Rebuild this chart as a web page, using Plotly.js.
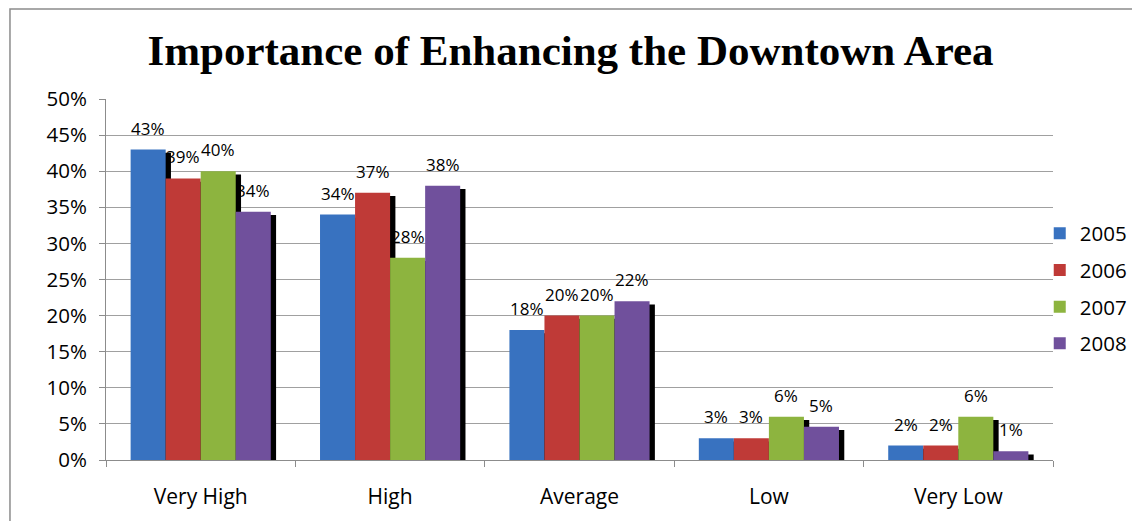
<!DOCTYPE html>
<html>
<head>
<meta charset="utf-8">
<script src="https://cdn.plot.ly/plotly-3.0.1.min.js"></script>
<style>
html,body{margin:0;padding:0;background:#fff;}
#chart{width:1132px;height:521px;}
</style>
</head>
<body>
<div id="chart"></div>
<script>
// ---- data ----
const categories = ["Very High", "High", "Average", "Low", "Very Low"];
const seriesNames = ["2005", "2006", "2007", "2008"];
const v2005 = [43, 34, 18, 3, 2];
const v2006 = [39, 37, 20, 3, 2];
const v2007 = [40, 28, 20, 6, 6];
const v2008 = [34.4, 38, 22, 4.6, 1.2];
const yTickVals = [0, 5, 10, 15, 20, 25, 30, 35, 40, 45, 50];
const yTickText = ["0%", "5%", "10%", "15%", "20%", "25%", "30%", "35%", "40%", "45%", "50%"];

// ---- style ----
const seriesValues = [v2005, v2006, v2007, v2008];
const colors = ["#3872c0", "#bf3a37", "#8db43f", "#70509c"];
const barW = 0.185;
const offsets = [-0.37, -0.185, 0, 0.185];
const shadowDx = 0.028;
const shadowDy = 0.45;
const FONT = "Open Sans, Liberation Sans, sans-serif";
const plotW = 1132 - 106 - 79;
const catPx = plotW / categories.length;

const traces = [];
// shadows first (underneath)
seriesValues.forEach((vals, i) => {
  traces.push({
    type: "bar",
    x: categories,
    y: vals,
    base: -shadowDy,
    width: barW,
    offset: offsets[i] + shadowDx,
    marker: {color: "#000000", line: {width: 0}},
    showlegend: false,
    hoverinfo: "skip"
  });
});
seriesValues.forEach((vals, i) => {
  traces.push({
    type: "bar",
    name: seriesNames[i],
    legendgroup: seriesNames[i],
    x: categories,
    y: vals,
    width: barW,
    offset: offsets[i],
    marker: {color: colors[i], line: {width: 0}}
  });
});

// value labels above bars
const annotations = [];
seriesValues.forEach((vals, i) => {
  vals.forEach((v, j) => {
    annotations.push({
      x: categories[j], y: v, xref: "x", yref: "y",
      text: Math.round(v) + "%",
      showarrow: false,
      xanchor: "center", yanchor: "bottom",
      xshift: (offsets[i] + barW / 2) * catPx,
      yshift: 8,
      font: {family: FONT, size: 17, color: "#000"}
    });
  });
});

const layout = {
  width: 1132,
  height: 521,
  margin: {l: 106, r: 79, t: 99, b: 61, autoexpand: false},
  paper_bgcolor: "#ffffff",
  plot_bgcolor: "#ffffff",
  barmode: "overlay",
  font: {family: FONT, color: "#000"},
  title: {
    text: "Importance of Enhancing the Downtown Area",
    font: {family: "Liberation Serif, Times New Roman, serif", size: 43, weight: "bold", color: "#000"},
    x: 0.504, xanchor: "center",
    y: 0.905, yanchor: "middle", yref: "container"
  },
  xaxis: {
    type: "category",
    range: [-0.5, 4.5],
    showline: true, linecolor: "#8c8c8c", linewidth: 1,
    ticks: "outside", tickson: "boundaries", ticklen: 6, tickcolor: "#8c8c8c",
    tickfont: {family: FONT, size: 21, color: "#000"},
    ticklabelstandoff: 18,
    showgrid: false, zeroline: false
  },
  yaxis: {
    range: [0, 50],
    tickvals: yTickVals,
    ticktext: yTickText,
    showline: true, linecolor: "#8c8c8c", linewidth: 1,
    ticks: "outside", ticklen: 6, tickcolor: "#8c8c8c",
    tickfont: {family: FONT, size: 20.5, color: "#000"},
    ticklabelstandoff: 8,
    showgrid: true, gridcolor: "#a0a0a0", gridwidth: 1,
    zeroline: false
  },
  legend: {
    x: 0.986, xanchor: "left",
    y: 0.475, yanchor: "middle",
    font: {family: FONT, size: 20.5, color: "#000"},
    tracegroupgap: 7,
    itemwidth: 30,
    bgcolor: "rgba(0,0,0,0)"
  },
  annotations: annotations,
  shapes: [{
    type: "rect", xref: "paper", yref: "paper",
    x0: -0.1014, x1: 1.3, y0: -0.3, y1: 1.249,
    line: {color: "#8c8c8c", width: 1.5},
    fillcolor: "rgba(0,0,0,0)",
    layer: "below"
  }]
};

Plotly.newPlot("chart", traces, layout, {displayModeBar: false, staticPlot: true});
</script>
</body>
</html>
